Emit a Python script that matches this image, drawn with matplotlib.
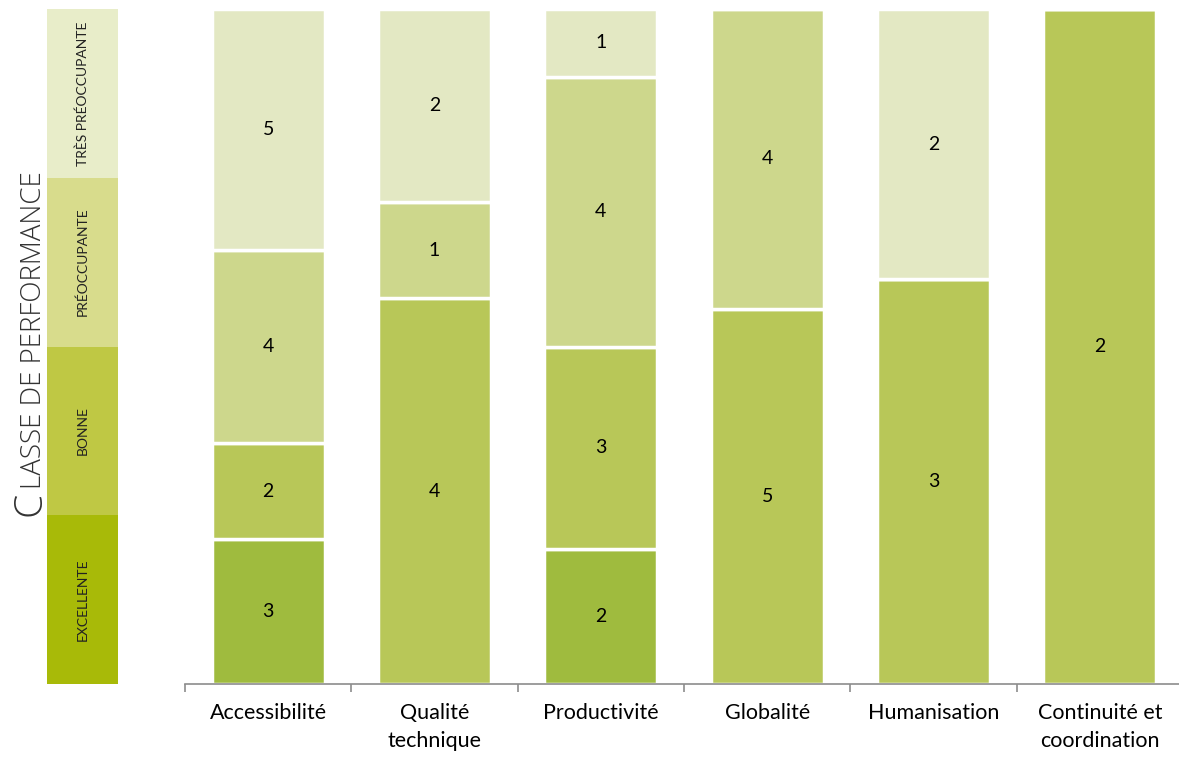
import matplotlib.pyplot as plt
import numpy as np

# données
categories = ["Accessibilité", "Qualité\ntechnique", "Productivité",
              "Globalité", "Humanisation", "Continuité et\ncoordination"]
classes = ["EXCELLENTE", "BONNE", "PRÉOCCUPANTE", "TRÈS PRÉOCCUPANTE"]
excellente = [3, 0, 2, 0, 0, 0]
bonne = [2, 4, 3, 5, 3, 2]
preoccupante = [4, 1, 4, 4, 0, 0]
tres_preoccupante = [5, 2, 1, 0, 2, 0]

bar_colors = ["#9fbb3e", "#b8c758", "#cdd78c", "#e3e8c3"]
strip_colors = ["#a8ba08", "#bfc844", "#d8dc8c", "#e8edc9"]

series = np.array([excellente, bonne, preoccupante, tres_preoccupante], dtype=float)
totals = series.sum(axis=0)
shares = series / totals

fig = plt.figure(figsize=(11.79, 7.58), dpi=100)
W, H = 1179, 758

# graphique principal
ax = fig.add_axes([185 / W, 1 - 684 / H, (1183 - 185) / W, (684 - 9) / H])
x = np.arange(len(categories))
bottom = np.zeros(len(categories))
for i in range(len(classes)):
    ax.bar(x, shares[i], 0.68, bottom=bottom, color=bar_colors[i],
           edgecolor="white", linewidth=2.5)
    for j in range(len(categories)):
        if series[i, j] > 0:
            ax.text(x[j], bottom[j] + shares[i, j] / 2, f"{int(series[i, j])}",
                    ha="center", va="center", fontsize=14, family="Lato",
                    color="black")
    bottom += shares[i]

ax.set_xlim(-0.5, len(categories) - 0.5)
ax.set_ylim(0, 1)
for s in ["top", "right", "left"]:
    ax.spines[s].set_visible(False)
ax.spines["bottom"].set_color("#8c8c8c")
ax.spines["bottom"].set_linewidth(1.2)
ax.set_yticks([])
ax.set_xticks(x)
ax.set_xticklabels(categories, fontsize=15.5, family="Lato", linespacing=1.45)
ax.tick_params(axis="x", which="major", length=0, pad=14)
ax.set_xticks(np.arange(len(categories) + 1) - 0.5, minor=True)
ax.tick_params(axis="x", which="minor", length=6, color="#8c8c8c", width=1.2)

# bande de légende à gauche
lg = fig.add_axes([47 / W, 1 - 684 / H, (118 - 47) / W, (684 - 9) / H])
for i, name in enumerate(classes):
    lg.bar(0, 1, 1, bottom=i, color=strip_colors[i], linewidth=0)
    lg.text(0, i + 0.5, name, rotation=90, ha="center", va="center",
            fontsize=10, family="Lato", color="#222")
lg.set_xlim(-0.5, 0.5)
lg.set_ylim(0, len(classes))
lg.axis("off")

# titre vertical en petites capitales
fig.text(30 / W, 1 - 516 / H, "C", rotation=90, fontsize=28,
         family="Open Sans", fontweight="light", ha="center", va="bottom",
         color="#333")
fig.text(34 / W, 1 - 489 / H, "LASSE DE PERFORMANCE", rotation=90, fontsize=20,
         family="Open Sans", fontweight="light", ha="center", va="bottom",
         color="#333")

fig.savefig("out.png", dpi=100)
